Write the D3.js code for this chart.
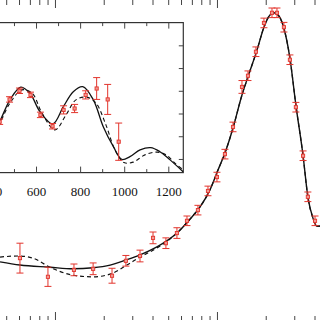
<!DOCTYPE html>
<html>
<head>
<meta charset="utf-8">
<script src="https://cdn.jsdelivr.net/npm/d3@7"></script>
<style>
  html, body { margin: 0; padding: 0; background: #fff; }
  svg { display: block; }
</style>
</head>
<body>
<div id="chart"></div>
<script>
// main panel: measured points with errors
const mainX   = [6.08, 9.05, 13.1, 17.2, 22.5, 27.4, 33.5, 40.3, 48.4, 56.6, 65.3, 76.3, 88.0, 100, 112, 125.6, 142.7, 155.4, 174, 195, 218.6, 234.6, 259, 282, 307, 340, 364, 403];
const mainY   = [116, 81, 94, 96, 83, 111, 120, 154, 144, 163, 186, 206, 242, 268, 311, 362, 437, 458, 503, 557, 576, 576, 549, 488, 399, 308, 231, 186];
const mainErr = [28, 18, 11, 11, 14, 10, 11, 11, 10, 10, 9, 9, 9, 9, 9, 9, 12, 9, 9, 9, 9, 9, 9, 9, 9, 9, 9, 9];

// main panel: model curves
const solidX  = [4.58, 6.08, 9.31, 12.9, 17.2, 21.9, 27.8, 33.5, 42.6, 56.6, 68.1, 78.6, 90.5, 101.4, 112, 125.6, 142.7, 155.4, 176.6, 195, 212.4, 224.8, 241.3, 259, 282, 307, 340, 364, 391.4, 414.3, 432.4, 480];
const solidY  = [109, 103, 99, 96, 98, 103, 113, 122, 137, 163, 189, 212, 244, 281, 313, 360, 422, 456, 506, 549, 572, 576, 570, 547, 491, 403, 308, 231, 191, 176, 176, 178];
const dashX   = [4.58, 5.91, 7.31, 9.31, 12.9, 17.2, 21.9, 27.8, 33.5, 42.6, 56.6, 68.1, 78.6, 90.5, 101.4, 112, 125.6, 142.7, 155.4, 176.6, 195, 212.4, 224.8, 241.3, 259, 282, 307, 340, 364, 391.4, 414.3, 432.4, 480];
const dashY   = [118, 120, 116, 99, 84, 81, 86, 103, 118, 135, 163, 189, 212, 244, 281, 313, 360, 422, 456, 506, 549, 572, 576, 570, 547, 491, 403, 308, 231, 191, 176, 176, 178];

// inset: measured points
const insX    = [435, 480, 525, 575, 620, 675, 725, 775, 825, 875, 925, 975];
const insY    = [132, 181, 200, 191, 147, 122, 158, 161, 191, 205, 181, 88];
const insErr  = [6, 6, 6, 6, 6, 6, 9, 9, 9, 24, 33, 41];

// inset: model curves
const insSolidX = [400, 437, 482, 531, 573, 618, 676, 724, 769, 812, 860, 905, 951, 989, 1026, 1072, 1120, 1162, 1208, 1267];
const insSolidY = [100, 134, 180, 208, 194, 154, 127, 165, 198, 209, 180, 121, 77, 49, 55, 70, 75, 66, 48, 22];
const insDashX  = [400, 437, 482, 536, 582, 627, 686, 736, 781, 831, 872, 917, 958, 999, 1040, 1094, 1149, 1190, 1230, 1267];
const insDashY  = [95, 129, 173, 202, 195, 151, 114, 147, 180, 186, 173, 125, 70, 42, 43, 59, 65, 59, 41, 26];

const insTicks  = [400, 500, 600, 700, 800, 900, 1000, 1100, 1200];
const insYTicks = [50, 100, 150, 200, 250, 300];

const W = 320, H = 320;
const red = "#e2342c";

const svg = d3.select("#chart").append("svg")
    .attr("width", W)
    .attr("height", H)
    .style("font-family", "'Liberation Serif', 'DejaVu Serif', serif");

svg.append("rect").attr("width", W).attr("height", H).attr("fill", "#fff");

// ---- main panel ----
const x = d3.scaleLog().domain([4, 500]).range([-9.5, 330.2]);
const y = d3.scaleLinear().domain([0, 600]).range([320, 0]);

const logTicks = [];
[1, 10, 100].forEach(dec => d3.range(1, 10).forEach(k => logTicks.push(k * dec)));
const majorLog = logTicks.filter(v => [1, 10, 100].includes(v) || v === 1000);
const minorLog = logTicks.filter(v => !majorLog.includes(v) && v >= 4 && v <= 500);

function logAxis(gen, ty, vals, size) {
  const g = svg.append("g")
      .attr("transform", `translate(0,${ty})`)
      .call(gen(x).tickValues(vals).tickSize(size).tickFormat(""));
  g.select(".domain").remove();
  g.selectAll("line").attr("stroke", "#444").attr("stroke-width", 1);
}
logAxis(d3.axisTop, -1, minorLog, -6);
logAxis(d3.axisTop, -1, [10, 100], -9);
logAxis(d3.axisBottom, 321, minorLog, -5);
logAxis(d3.axisBottom, 321, [10, 100], -9);

const main = svg.append("g");

const mainLine = d3.line().x(d => x(d[0])).y(d => y(d[1])).curve(d3.curveMonotoneX);

main.append("path")
    .datum(d3.zip(dashX, dashY))
    .attr("d", mainLine)
    .attr("fill", "none")
    .attr("stroke", "#111")
    .attr("stroke-width", 1.2)
    .attr("stroke-dasharray", "4,3");

main.append("path")
    .datum(d3.zip(solidX, solidY))
    .attr("d", mainLine)
    .attr("fill", "none")
    .attr("stroke", "#111")
    .attr("stroke-width", 1.4);

function drawPoints(g, xs, ys, es, sx, sy) {
  const pts = d3.zip(xs, ys, es);
  const grp = g.selectAll(null).data(pts).enter().append("g");
  grp.append("line")
      .attr("x1", d => sx(d[0])).attr("x2", d => sx(d[0]))
      .attr("y1", d => sy(d[1] - d[2])).attr("y2", d => sy(d[1] + d[2]))
      .attr("stroke", red).attr("stroke-width", 1);
  [-1, 1].forEach(s => {
    grp.append("line")
        .attr("x1", d => sx(d[0]) - 3.5).attr("x2", d => sx(d[0]) + 3.5)
        .attr("y1", d => sy(d[1] + s * d[2])).attr("y2", d => sy(d[1] + s * d[2]))
        .attr("stroke", red).attr("stroke-width", 1);
  });
  grp.append("rect")
      .attr("x", d => sx(d[0]) - 1.6).attr("y", d => sy(d[1]) - 1.6)
      .attr("width", 3.2).attr("height", 3.2)
      .attr("fill", "#f19a94").attr("stroke", red).attr("stroke-width", 0.9);
}
drawPoints(main, mainX, mainY, mainErr, x, y);

// ---- inset ----
const xi = d3.scaleLinear().domain([350, 1268]).range([-19.1, 183.3]);
const yi = d3.scaleLinear().domain([20, 350]).range([172.6, 22.6]);

const inset = svg.append("g");
inset.append("rect")
    .attr("x", xi(350)).attr("y", yi(350))
    .attr("width", xi(1268) - xi(350)).attr("height", yi(20) - yi(350))
    .attr("fill", "#fff").attr("stroke", "#333").attr("stroke-width", 1.2);

const insMajor = insTicks.filter(v => v % 200 === 0);
const insMinor = insTicks.filter(v => v % 200 !== 0);

function insAxis(gen, tr, scale, vals, size, fmt, pad) {
  const g = inset.append("g")
      .attr("transform", tr)
      .call(gen(scale).tickValues(vals).tickSize(size).tickPadding(pad || 3)
        .tickFormat(fmt ? d3.format("d") : ""));
  g.select(".domain").remove();
  g.selectAll("line").attr("stroke", "#444");
  g.selectAll("text").attr("font-size", 13).attr("fill", "#111")
      .style("font-family", "'Liberation Serif', serif");
}
insAxis(d3.axisBottom, `translate(0,${yi(20)})`, xi, insMajor, -6, true, 14);
insAxis(d3.axisBottom, `translate(0,${yi(20)})`, xi, insMinor, -3.5, false);
insAxis(d3.axisTop, `translate(0,${yi(350)})`, xi, insMajor, -6, false);
insAxis(d3.axisTop, `translate(0,${yi(350)})`, xi, insMinor, -3.5, false);
insAxis(d3.axisRight, `translate(${xi(1268)},0)`, yi, insYTicks, -4.5, false);

const clip = svg.append("clipPath").attr("id", "insclip").append("rect")
    .attr("x", xi(350)).attr("y", yi(350))
    .attr("width", xi(1268) - xi(350)).attr("height", yi(20) - yi(350));

const insBody = inset.append("g").attr("clip-path", "url(#insclip)");
const insLine = d3.line().x(d => xi(d[0])).y(d => yi(d[1])).curve(d3.curveCatmullRom);

insBody.append("path")
    .datum(d3.zip(insDashX, insDashY))
    .attr("d", insLine)
    .attr("fill", "none").attr("stroke", "#111")
    .attr("stroke-width", 1.1).attr("stroke-dasharray", "4,3");

insBody.append("path")
    .datum(d3.zip(insSolidX, insSolidY))
    .attr("d", insLine)
    .attr("fill", "none").attr("stroke", "#111")
    .attr("stroke-width", 1.3);

drawPoints(insBody, insX, insY, insErr, xi, yi);
</script>
</body>
</html>
